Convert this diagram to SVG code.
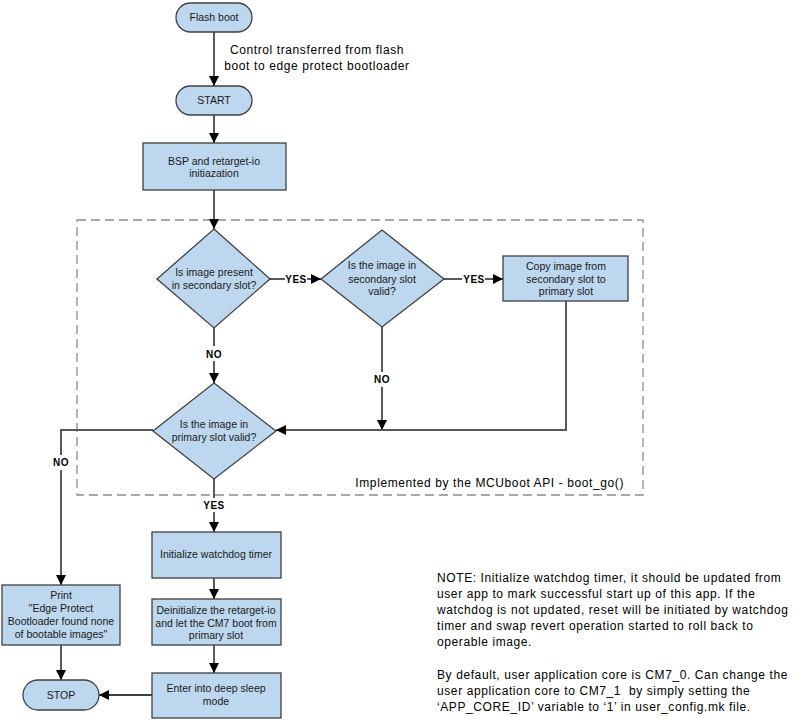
<svg xmlns="http://www.w3.org/2000/svg" width="799" height="721" viewBox="0 0 799 721">
<defs>
<style>
.box{fill:#BDD7EE;stroke:#404040;stroke-width:1.3}
.t{font-family:"Liberation Sans",Arial,sans-serif;font-size:10.5px;fill:#1a1a1a;text-anchor:middle}
.lbl{font-family:"Liberation Sans",Arial,sans-serif;font-size:10px;font-weight:bold;fill:#000;text-anchor:middle;letter-spacing:0.5px}
.note{font-family:"Liberation Sans",Arial,sans-serif;font-size:12px;fill:#000;letter-spacing:0.6px}
.g{fill:none;stroke:#595959;stroke-width:2}
.k{fill:none;stroke:#000;stroke-width:1.3}
</style>
<marker id="ah" viewBox="0 0 10 10" refX="10" refY="5" markerWidth="10" markerHeight="10" markerUnits="userSpaceOnUse" orient="auto">
<path d="M0,0 L10,5 L0,10 Z" fill="#000"/>
</marker>
<marker id="ahg" viewBox="0 0 10 10" refX="10" refY="5" markerWidth="5" markerHeight="5" orient="auto">
<path d="M0,0 L10,5 L0,10 Z" fill="#000"/>
</marker>
</defs>
<rect width="799" height="721" fill="#fff"/>

<rect id="api-boundary" x="77" y="220" width="566" height="275" fill="none" stroke="#8c8c8c" stroke-width="1.3" stroke-dasharray="9,5"/>
<text class="note" x="624" y="487" text-anchor="end">Implemented by the MCUboot API - boot_go()</text>

<g id="connectors">
<path class="k" d="M214,32 V86" marker-end="url(#ah)"/>
<path class="k" d="M214,115 V143" marker-end="url(#ah)"/>
<path class="g" d="M214,190 V229" marker-end="url(#ahg)"/>
<path class="g" d="M270,279 H285 M307,279 H321" marker-end="url(#ahg)"/>
<path class="g" d="M444,279 H462 M485,279 H503" marker-end="url(#ahg)"/>
<path class="g" d="M214,328 V346 M214,361 V383" marker-end="url(#ahg)"/>
<path class="g" d="M382,327 V372 M382,387 V430" marker-end="url(#ahg)"/>
<path class="g" d="M566,301 V430 H276" marker-end="url(#ahg)"/>
<path class="g" d="M153,430 H61 V455 M61,470 V585" marker-end="url(#ahg)"/>
<path class="g" d="M214,479 V498 M214,512 V532" marker-end="url(#ahg)"/>
<path class="k" d="M214,578 V599" marker-end="url(#ah)"/>
<path class="k" d="M214,645 V673" marker-end="url(#ah)"/>
<path class="k" d="M152,695 H99" marker-end="url(#ah)"/>
<path class="g" d="M61,645 V680" marker-end="url(#ahg)"/>
<text class="lbl" x="296" y="283">YES</text>
<text class="lbl" x="474" y="283">YES</text>
<text class="lbl" x="214" y="358">NO</text>
<text class="lbl" x="382" y="383">NO</text>
<text class="lbl" x="61" y="466">NO</text>
<text class="lbl" x="214" y="509">YES</text>
<text class="note" x="317" y="54" text-anchor="middle">Control transferred from flash</text>
<text class="note" x="317" y="70" text-anchor="middle">boot to edge protect bootloader</text>
</g>

<g id="flash-boot">
<rect class="box" x="176" y="3" width="76" height="29" rx="14.5"/>
<text class="t" x="214" y="21">Flash boot</text>
</g>
<g id="start">
<rect class="box" x="176" y="86" width="76" height="29" rx="14.5"/>
<text class="t" x="214" y="104">START</text>
</g>
<g id="bsp-init">
<rect class="box" x="143" y="143" width="143" height="47"/>
<text class="t" x="214" y="165">BSP and retarget-io</text>
<text class="t" x="214" y="177">initiazation</text>
</g>
<g id="dec-present">
<path class="box" d="M214,229 L270,279 L214,328 L157,279 Z"/>
<text class="t" x="214" y="276">Is image present</text>
<text class="t" x="214" y="289">in secondary slot?</text>
</g>
<g id="dec-secondary-valid">
<path class="box" d="M382,230 L444,279 L382,327 L321,279 Z"/>
<text class="t" x="382" y="269">Is the image in</text>
<text class="t" x="382" y="283">secondary slot</text>
<text class="t" x="382" y="295">valid?</text>
</g>
<g id="copy-image">
<rect class="box" x="503" y="256" width="125" height="45"/>
<text class="t" x="566" y="270">Copy image from</text>
<text class="t" x="566" y="283">secondary slot to</text>
<text class="t" x="566" y="295">primary slot</text>
</g>
<g id="dec-primary-valid">
<path class="box" d="M214,383 L276,431 L214,479 L153,431 Z"/>
<text class="t" x="214" y="428">Is the image in</text>
<text class="t" x="214" y="441">primary slot valid?</text>
</g>
<g id="init-watchdog">
<rect class="box" x="152" y="532" width="129" height="46"/>
<text class="t" x="216" y="558">Initialize watchdog timer</text>
</g>
<g id="deinit">
<rect class="box" x="152" y="599" width="129" height="46"/>
<text class="t" x="216" y="614">Deinitialize the retarget-io</text>
<text class="t" x="216" y="626.5">and let the CM7 boot from</text>
<text class="t" x="216" y="639">primary slot</text>
</g>
<g id="deep-sleep">
<rect class="box" x="152" y="673" width="129" height="45"/>
<text class="t" x="216" y="692">Enter into deep sleep</text>
<text class="t" x="216" y="705">mode</text>
</g>
<g id="print-error">
<rect class="box" x="2" y="585" width="118" height="60"/>
<text class="t" x="61" y="599">Print</text>
<text class="t" x="61" y="612">"Edge Protect</text>
<text class="t" x="61" y="625">Bootloader found none</text>
<text class="t" x="61" y="638">of bootable images"</text>
</g>
<g id="stop">
<rect class="box" x="23" y="680" width="76" height="30" rx="15"/>
<text class="t" x="61" y="699">STOP</text>
</g>

<g id="note">
<text class="note" x="437" y="582">NOTE: Initialize watchdog timer, it should be updated from</text>
<text class="note" x="437" y="598">user app to mark successful start up of this app. If the</text>
<text class="note" x="437" y="614">watchdog is not updated, reset will be initiated by watchdog</text>
<text class="note" x="437" y="630">timer and swap revert operation started to roll back to</text>
<text class="note" x="437" y="646">operable image.</text>
<text class="note" x="437" y="679">By default, user application core is CM7_0. Can change the</text>
<text class="note" x="437" y="695" xml:space="preserve">user application core to CM7_1  by simply setting the</text>
<text class="note" x="437" y="711">‘APP_CORE_ID’ variable to ‘1’ in user_config.mk file.</text>
</g>
</svg>
